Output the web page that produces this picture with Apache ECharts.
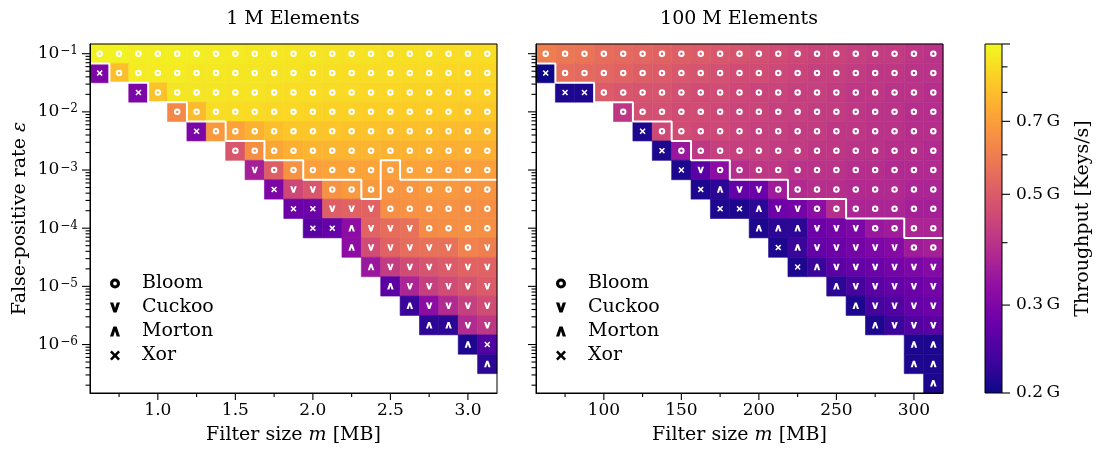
<!DOCTYPE html>
<html>
<head>
<meta charset="UTF-8">
<title>Filter throughput</title>
<style>
  html, body { margin: 0; padding: 0; background: #fff; }
  #chart { width: 1099px; height: 450px; }
</style>
</head>
<body>
<div id="chart"></div>
<script src="https://cdn.jsdelivr.net/npm/echarts@6/dist/echarts.min.js"></script>
<script>
// columns are bits per element (5..25), rows are false-positive rates 10^(-1 - r/3)
var firstBits = 5;

// ---- 1 M elements (1 bit/element = 0.125 MB)
var smallRowStart = [0, 0, 2, 4, 5, 7, 8, 9, 10, 11, 13, 14, 15, 16, 17, 19, 20];
var smallBest = [
  'ooooooooooooooooooooo',
  'xoooooooooooooooooooo',
  'xoooooooooooooooooo',
  'ooooooooooooooooo',
  'xooooooooooooooo',
  'oooooooooooooo',
  'voooooooooooo',
  'xvvooooooooo',
  'xxvvvoooooo',
  'xx^vvvoooo',
  '^vvvvvov',
  '^vvvvvv',
  '^vvvvv',
  '^vvvv',
  '^^vv',
  '^x',
  '^'
];
// throughput in G keys/s
var smallTput = [
  [0.97,0.97,0.96,0.96,0.96,0.96,0.95,0.95,0.94,0.94,0.93,0.93,0.92,0.92,0.92,0.91,0.91,0.91,0.90,0.90,0.90],
  [0.30,0.80,0.95,0.95,0.95,0.94,0.94,0.93,0.93,0.92,0.92,0.91,0.91,0.90,0.90,0.90,0.89,0.89,0.88,0.88,0.88],
  [0.30,0.81,0.93,0.93,0.93,0.92,0.92,0.91,0.90,0.90,0.89,0.89,0.88,0.88,0.87,0.87,0.86,0.86,0.86],
  [0.63,0.79,0.90,0.90,0.89,0.88,0.88,0.87,0.86,0.86,0.85,0.85,0.84,0.84,0.84,0.83,0.83],
  [0.30,0.68,0.71,0.76,0.80,0.82,0.82,0.82,0.81,0.81,0.80,0.80,0.80,0.79,0.79,0.79],
  [0.49,0.65,0.72,0.75,0.77,0.77,0.77,0.77,0.76,0.76,0.76,0.75,0.75,0.75],
  [0.36,0.51,0.66,0.70,0.71,0.71,0.71,0.70,0.71,0.71,0.70,0.70,0.70],
  [0.30,0.45,0.49,0.66,0.68,0.68,0.67,0.67,0.68,0.68,0.67,0.67],
  [0.28,0.28,0.51,0.52,0.52,0.65,0.66,0.66,0.66,0.65,0.65],
  [0.26,0.27,0.32,0.52,0.55,0.56,0.64,0.65,0.65,0.65],
  [0.32,0.46,0.52,0.55,0.56,0.56,0.61,0.60],
  [0.34,0.42,0.46,0.48,0.50,0.52,0.52],
  [0.26,0.37,0.43,0.46,0.48,0.50],
  [0.23,0.32,0.38,0.43,0.46],
  [0.22,0.22,0.38,0.41],
  [0.21,0.25],
  [0.22]
];
// row index under the white step line, per column
var smallLine = [1,2,2,3,3,4,4,5,5,6,6,7,7,7,8,6,7,7,7,7,7];

// ---- 100 M elements (1 bit/element = 12.5 MB)
var largeRowStart = [0, 0, 1, 4, 5, 6, 7, 8, 9, 11, 12, 13, 15, 16, 17, 19, 19, 20];
var largeBest = [
  'ooooooooooooooooooooo',
  'xoooooooooooooooooooo',
  'xxoooooooooooooooooo',
  'ooooooooooooooooo',
  'xooooooooooooooo',
  'xoooooooooooooo',
  'xvoooooooooooo',
  'x^vvooooooooo',
  'xx^vvooooooo',
  '^^^vvvoooo',
  'x^vvvvvoo',
  'x^vvvvvv',
  '^vvvvv',
  '^vvvv',
  '^vvv',
  '^^',
  '^^',
  '^'
];
var largeTput = [
  [0.60,0.58,0.57,0.55,0.54,0.53,0.52,0.51,0.50,0.49,0.48,0.47,0.46,0.45,0.44,0.44,0.43,0.42,0.42,0.41,0.40],
  [0.20,0.55,0.54,0.53,0.52,0.51,0.50,0.49,0.48,0.47,0.46,0.46,0.45,0.44,0.43,0.43,0.42,0.41,0.41,0.40,0.40],
  [0.21,0.21,0.50,0.49,0.48,0.48,0.47,0.46,0.46,0.45,0.44,0.44,0.43,0.43,0.42,0.41,0.41,0.40,0.40,0.39],
  [0.41,0.47,0.47,0.46,0.46,0.45,0.44,0.44,0.43,0.43,0.42,0.42,0.41,0.40,0.40,0.39,0.39],
  [0.21,0.45,0.46,0.45,0.45,0.44,0.43,0.43,0.42,0.42,0.41,0.41,0.40,0.40,0.39,0.39],
  [0.21,0.34,0.41,0.43,0.43,0.43,0.42,0.42,0.41,0.41,0.40,0.40,0.39,0.39,0.38],
  [0.21,0.26,0.32,0.39,0.41,0.41,0.40,0.40,0.40,0.39,0.39,0.38,0.38,0.38],
  [0.21,0.22,0.27,0.28,0.35,0.38,0.39,0.39,0.38,0.38,0.38,0.37,0.37],
  [0.21,0.21,0.22,0.28,0.29,0.32,0.39,0.37,0.37,0.37,0.36,0.36],
  [0.21,0.22,0.22,0.28,0.29,0.30,0.34,0.35,0.37,0.37],
  [0.21,0.23,0.27,0.28,0.29,0.30,0.31,0.35,0.36],
  [0.21,0.23,0.26,0.27,0.28,0.29,0.30,0.31],
  [0.22,0.24,0.26,0.27,0.28,0.29],
  [0.21,0.24,0.25,0.27,0.28],
  [0.21,0.23,0.25,0.26],
  [0.21,0.21],
  [0.21,0.21],
  [0.21]
];
var largeLine = [1,2,2,3,3,4,4,5,6,6,7,7,7,8,8,8,9,9,9,10,10];

// axis ticks
var smallXMajor = [1.0, 1.5, 2.0, 2.5, 3.0];
var smallXMinor = [0.75, 1.25, 1.75, 2.25, 2.75];
var largeXMajor = [100, 150, 200, 250, 300];
var largeXMinor = [75, 125, 175, 225, 275];
var yDecades = [-1, -2, -3, -4, -5, -6];
var yMinorDecades = [-7, -6, -5, -4, -3, -2];
var mantissas = [2, 3, 4, 5, 6, 7, 8, 9];
var cbMajor = [0.2, 0.3, 0.5, 0.7, 1.0];
var cbMinor = [0.4, 0.6, 0.8, 0.9];
var cbLabeled = [0.2, 0.3, 0.5, 0.7];

var plasma = ['#0d0887', '#41049d', '#6a00a8', '#8f0da4', '#b12a90', '#cc4778',
              '#e16462', '#f2844b', '#fca636', '#fcce25', '#f0f921'];
var CB_MIN = 0.2, CB_MAX = 1.0;
var F = "'DejaVu Serif', serif";

var Y_MAX = -1 + 0.5 / 3;
var Y_MIN = -1 - 17.5 / 3;

var RING = 'path://M5,0 A5,5 0 1 1 5,10 A5,5 0 1 1 5,0 Z M5,3.1 A1.9,1.9 0 1 0 5,6.9 A1.9,1.9 0 1 0 5,3.1 Z';
var DOWN = 'path://M0,0 L3.3,0 L5,5.6 L6.7,0 L10,0 L6.6,10 L3.4,10 Z';
var UP = 'path://M0,10 L3.3,10 L5,4.4 L6.7,10 L10,10 L6.6,0 L3.4,0 Z';
var CROSS = 'path://M0,1.8 L1.8,0 L5,3.2 L8.2,0 L10,1.8 L6.8,5 L10,8.2 L8.2,10 L5,6.8 L1.8,10 L0,8.2 L3.2,5 Z';

var kinds = [
  {key: 'o', name: 'Bloom', symbol: RING, size: 6.5},
  {key: 'v', name: 'Cuckoo', symbol: DOWN, size: 6.5},
  {key: '^', name: 'Morton', symbol: UP, size: 6.5},
  {key: 'x', name: 'Xor', symbol: CROSS, size: 6}
];

function buildPanel(starts, best, tput, mb) {
  var cells = [];
  var marks = {o: [], v: [], '^': [], x: []};
  for (var r = 0; r < starts.length; r++) {
    for (var i = 0; i < tput[r].length; i++) {
      var c = starts[r] + i;
      var x = (firstBits + c) * mb;
      var y = -1 - r / 3;
      var v = tput[r][i];
      cells.push([x, y, Math.log10(v), v]);
      marks[best[r].charAt(i)].push([x, y]);
    }
  }
  return {cells: cells, marks: marks};
}

function buildLine(line, mb) {
  var pts = [];
  for (var c = 0; c < line.length; c++) {
    var y = -1 - (line[c] - 0.5) / 3;
    pts.push([(firstBits + c - 0.5) * mb, y]);
    pts.push([(firstBits + c + 0.5) * mb, y]);
  }
  return pts;
}

function buildTicks(xMajor, xMinor, xMin) {
  var t = [];
  xMajor.forEach(function (v) { t.push([v, Y_MIN, 7, 0]); });
  xMinor.forEach(function (v) { t.push([v, Y_MIN, 4, 0]); });
  yDecades.forEach(function (d) { t.push([xMin, d, 8, 1]); });
  yMinorDecades.forEach(function (d) {
    mantissas.forEach(function (m) {
      var v = d + Math.log10(m);
      if (v > Y_MIN && v < Y_MAX) t.push([xMin, v, 4.5, 1]);
    });
  });
  return t;
}

var small = buildPanel(smallRowStart, smallBest, smallTput, 0.125);
var large = buildPanel(largeRowStart, largeBest, largeTput, 12.5);

function cellRenderer(mb) {
  return function (params, api) {
    var x = api.value(0), y = api.value(1);
    var p0 = api.coord([x - mb / 2, y + 1 / 6]);
    var p1 = api.coord([x + mb / 2, y - 1 / 6]);
    var col = api.visual('color');
    return {
      type: 'rect',
      shape: {x: p0[0], y: p0[1], width: p1[0] - p0[0], height: p1[1] - p0[1]},
      style: {fill: col, stroke: col, lineWidth: 0.6}
    };
  };
}

function renderTick(params, api) {
  var p = api.coord([api.value(0), api.value(1)]);
  var len = api.value(2), dir = api.value(3);
  var x2 = p[0], y2 = p[1];
  if (dir === 0) y2 = p[1] + len;
  else if (dir === 1) x2 = p[0] - len;
  else x2 = p[0] + len;
  return {type: 'line', shape: {x1: p[0], y1: p[1], x2: x2, y2: y2},
          style: {stroke: '#000', lineWidth: 1.1}};
}

var cbTicks = [];
cbMajor.forEach(function (v) { cbTicks.push([1, Math.log10(v), 8, 2, v]); });
cbMinor.forEach(function (v) { cbTicks.push([1, Math.log10(v), 5.5, 2, v]); });

function renderCbTick(params, api) {
  var item = cbTicks[params.dataIndex];
  var p = api.coord([1, item[1]]);
  var children = [{type: 'line', shape: {x1: p[0], y1: p[1], x2: p[0] + item[2], y2: p[1]},
                   style: {stroke: '#000', lineWidth: 1.1}}];
  if (cbLabeled.indexOf(item[4]) >= 0) {
    children.push({type: 'text', style: {
      text: item[4].toFixed(1) + '\u2009G', x: p[0] + 14, y: p[1],
      fontFamily: F, fontSize: 17, fill: '#000', align: 'left', verticalAlign: 'middle'}});
  }
  return {type: 'group', children: children};
}

function renderBar(params, api) {
  var p0 = api.coord([0, Math.log10(CB_MAX)]);
  var p1 = api.coord([1, Math.log10(CB_MIN)]);
  var stops = plasma.map(function (c, i) { return {offset: i / (plasma.length - 1), color: c}; });
  return {type: 'rect',
          shape: {x: p0[0], y: p0[1], width: p1[0] - p0[0], height: p1[1] - p0[1]},
          style: {fill: new echarts.graphic.LinearGradient(0, 1, 0, 0, stops), stroke: '#000', lineWidth: 1}};
}

function valueXAxis(gi, min, max, fmt) {
  return {
    gridIndex: gi, type: 'value', min: min, max: max,
    axisLine: {show: true, onZero: false, lineStyle: {color: '#000', width: 1}},
    axisTick: {show: false}, splitLine: {show: false},
    axisLabel: {showMinLabel: false, showMaxLabel: false, margin: 9, color: '#000',
                fontFamily: F, fontSize: 17, formatter: fmt},
    name: 'Filter size {i|m} [MB]', nameLocation: 'middle', nameGap: 33,
    nameTextStyle: {fontFamily: F, fontSize: 19, color: '#000',
                    rich: {i: {fontFamily: F, fontSize: 19, fontStyle: 'italic', color: '#000'}}},
    z: 10
  };
}

function valueYAxis(gi, showLabels) {
  var ax = {
    gridIndex: gi, type: 'value', min: Y_MIN, max: Y_MAX,
    axisLine: {show: true, onZero: false, lineStyle: {color: '#000', width: 1}},
    axisTick: {show: false}, splitLine: {show: false},
    axisLabel: {show: showLabels, showMinLabel: false, showMaxLabel: false, margin: 12,
                color: '#000', fontFamily: F, fontSize: 17,
                formatter: function (v) { return '10{e|\u2212' + Math.abs(Math.round(v)) + '}'; },
                rich: {e: {fontFamily: F, fontSize: 12, color: '#000', verticalAlign: 'top', padding: [0, 0, 0, 1]}}},
    z: 10
  };
  if (showLabels) {
    ax.name = 'False-positive rate {i|\u03b5}';
    ax.nameLocation = 'middle';
    ax.nameGap = 60;
    ax.nameTextStyle = {fontFamily: F, fontSize: 19, color: '#000',
                        rich: {i: {fontFamily: F, fontSize: 19, fontStyle: 'italic', color: '#000'}}};
  }
  return ax;
}

function legendFor(left) {
  return {
    orient: 'vertical', left: left, top: 274, padding: 0,
    itemWidth: 44, itemHeight: 10, itemGap: 5, selectedMode: false,
    textStyle: {fontFamily: F, fontSize: 19, color: '#000'},
    data: kinds.map(function (k) {
      return {name: k.name, icon: k.symbol, itemStyle: {color: '#000', borderWidth: 0}};
    })
  };
}

var series = [
  {type: 'custom', name: 'cells1M', xAxisIndex: 0, yAxisIndex: 0, data: small.cells,
   encode: {x: 0, y: 1}, renderItem: cellRenderer(0.125), z: 2, silent: true},
  {type: 'custom', name: 'cells100M', xAxisIndex: 1, yAxisIndex: 1, data: large.cells,
   encode: {x: 0, y: 1}, renderItem: cellRenderer(12.5), z: 2, silent: true},
  {type: 'line', xAxisIndex: 0, yAxisIndex: 0, data: buildLine(smallLine, 0.125), showSymbol: false,
   symbol: 'none', lineStyle: {color: '#fff', width: 2}, z: 3, silent: true},
  {type: 'line', xAxisIndex: 1, yAxisIndex: 1, data: buildLine(largeLine, 12.5), showSymbol: false,
   symbol: 'none', lineStyle: {color: '#fff', width: 2}, z: 3, silent: true}
];

[small, large].forEach(function (panel, pi) {
  kinds.forEach(function (k) {
    series.push({
      type: 'scatter', name: k.name, xAxisIndex: pi, yAxisIndex: pi,
      data: panel.marks[k.key], symbol: k.symbol, symbolSize: k.size,
      itemStyle: {color: '#fff', opacity: 1}, z: 4, silent: true
    });
  });
});

series.push({type: 'custom', xAxisIndex: 0, yAxisIndex: 0, data: buildTicks(smallXMajor, smallXMinor, 0.5625),
             renderItem: renderTick, z: 6, silent: true});
series.push({type: 'custom', xAxisIndex: 1, yAxisIndex: 1, data: buildTicks(largeXMajor, largeXMinor, 56.25),
             renderItem: renderTick, z: 6, silent: true});
series.push({type: 'custom', xAxisIndex: 2, yAxisIndex: 2, data: [[0.5, -0.3]],
             renderItem: renderBar, z: 2, silent: true});
series.push({type: 'custom', xAxisIndex: 2, yAxisIndex: 2, data: cbTicks,
             renderItem: renderCbTick, z: 6, silent: true});

var chart = echarts.init(document.getElementById('chart'));
chart.setOption({
  animation: false,
  backgroundColor: '#fff',
  title: [
    {text: '1 M Elements', left: 293, top: 10, textAlign: 'center', padding: 0,
     textStyle: {fontFamily: F, fontSize: 19, fontWeight: 'normal', color: '#000'}},
    {text: '100 M Elements', left: 739, top: 10, textAlign: 'center', padding: 0,
     textStyle: {fontFamily: F, fontSize: 19, fontWeight: 'normal', color: '#000'}}
  ],
  legend: [legendFor(110), legendFor(556)],
  grid: [
    {left: 90, top: 44, width: 407, height: 349, show: true, borderColor: '#000', borderWidth: 1, z: 10},
    {left: 536, top: 44, width: 407, height: 349, show: true, borderColor: '#000', borderWidth: 1, z: 10},
    {left: 985, top: 44, width: 17, height: 349}
  ],
  xAxis: [
    valueXAxis(0, 0.5625, 3.1875, function (v) { return v.toFixed(1); }),
    valueXAxis(1, 56.25, 318.75, function (v) { return String(v); }),
    {gridIndex: 2, type: 'value', min: 0, max: 1, show: false}
  ],
  yAxis: [
    valueYAxis(0, true),
    valueYAxis(1, false),
    {gridIndex: 2, type: 'value', min: Math.log10(CB_MIN), max: Math.log10(CB_MAX), position: 'right',
     axisLine: {show: false}, axisTick: {show: false}, axisLabel: {show: false}, splitLine: {show: false},
     name: 'Throughput [Keys/s]', nameLocation: 'middle', nameGap: 72, nameRotate: 90,
     nameTextStyle: {fontFamily: F, fontSize: 19, color: '#000'}}
  ],
  visualMap: {
    type: 'continuous', show: false, seriesIndex: [0, 1], dimension: 2,
    min: Math.log10(CB_MIN), max: Math.log10(CB_MAX), inRange: {color: plasma}
  },
  series: series
});
</script>
</body>
</html>
